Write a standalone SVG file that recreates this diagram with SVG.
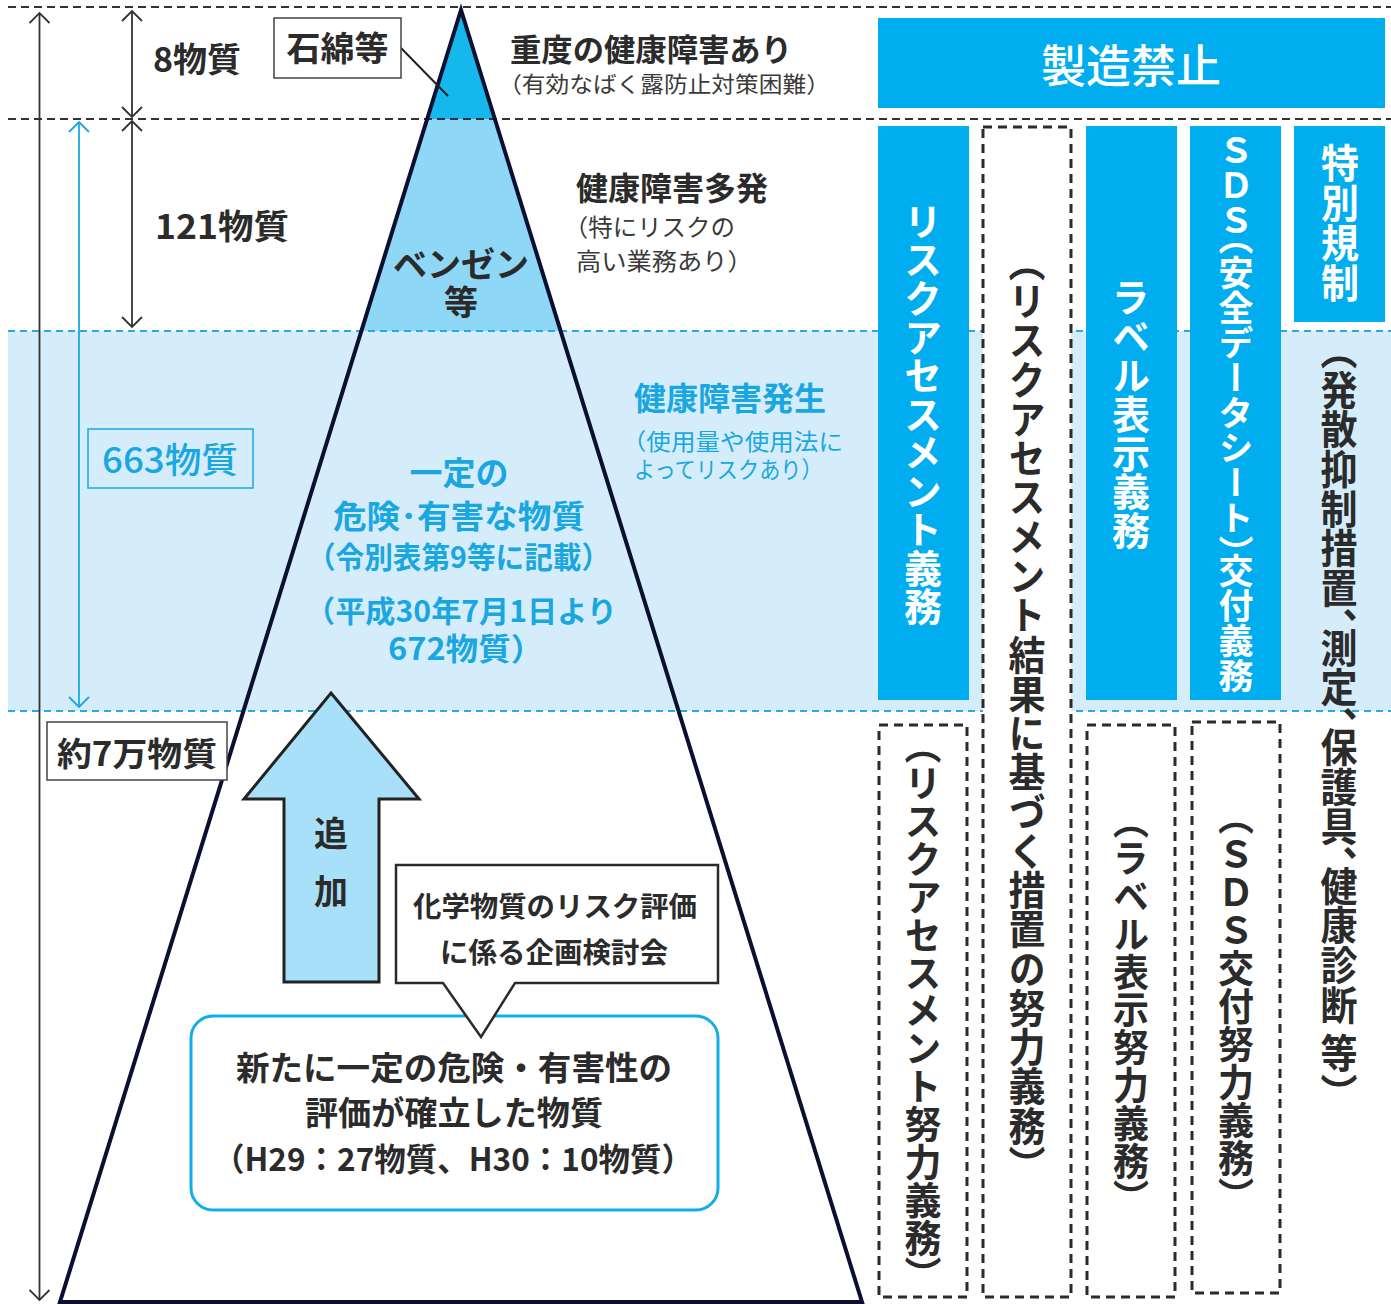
<svg xmlns="http://www.w3.org/2000/svg" width="1391" height="1304" viewBox="0 0 1391 1304">
<style>
text{font-family:"Noto Sans CJK JP","Noto Sans CJK SC",sans-serif;}
.dk{fill:#2b2b2b;font-weight:700;}
.dn{fill:#3a3a3a;font-weight:400;}
.cy{fill:#1aa7e1;font-weight:700;}
.cyn{fill:#1aa7e1;font-weight:400;}
.wt{fill:#ffffff;font-weight:700;}
.vt{writing-mode:vertical-rl;font-feature-settings:"vhal" 1;}
.h{font-feature-settings:"halt" 1;}
.bdash{stroke:#333;stroke-width:2;stroke-dasharray:8 5;fill:none;}
.cdash{stroke:#29abe2;stroke-width:2;stroke-dasharray:7 5;fill:none;}
.col{fill:#00aeef;}
.dbox{fill:#fff;stroke:#2b2b2b;stroke-width:3;stroke-dasharray:9 6;}
.dim{stroke:#333;stroke-width:1.8;fill:none;}
.dimc{stroke:#1aa7e1;stroke-width:1.8;fill:none;}
</style>
<defs>
<marker id="ah" viewBox="0 0 22 22" refX="20" refY="11" markerWidth="22" markerHeight="22" markerUnits="userSpaceOnUse" orient="auto-start-reverse">
<path d="M10,1 L20,11 L10,21" fill="none" stroke="#333" stroke-width="1.8"/>
</marker>
<marker id="ahc" viewBox="0 0 22 22" refX="20" refY="11" markerWidth="22" markerHeight="22" markerUnits="userSpaceOnUse" orient="auto-start-reverse">
<path d="M10,1 L20,11 L10,21" fill="none" stroke="#1aa7e1" stroke-width="1.8"/>
</marker>
</defs>
<rect width="1391" height="1304" fill="#fff"/>
<!-- band -->
<rect x="8" y="331" width="1383" height="380" fill="#d5edfa"/>
<!-- triangle fills -->
<polygon points="461,10 427.2,119 494.8,119" fill="#15b7ec"/>
<polygon points="427.2,119 494.8,119 560.6,331 361.4,331" fill="#8fd7f6"/>
<!-- guide lines -->
<g id="guides">
<line x1="8" y1="7" x2="1391" y2="7" class="bdash"/>
<line x1="8" y1="119" x2="1391" y2="119" class="bdash"/>
<line x1="8" y1="331" x2="1391" y2="331" class="cdash"/>
<line x1="8" y1="711" x2="1391" y2="711" class="cdash"/>
</g>
<!-- triangle -->
<g id="pyramid">
<polygon points="461,10 60,1302 862,1302" fill="none" stroke="#0b1030" stroke-width="4" stroke-linejoin="miter"/>
<text x="461" y="277" class="dk" font-size="34" text-anchor="middle">ベンゼン</text>
<text x="461" y="315" class="dk" font-size="34" text-anchor="middle">等</text>
<text x="459" y="485" class="cy" font-size="33" text-anchor="middle">一定の</text>
<text x="333" y="528" class="cy" font-size="32" textLength="252" lengthAdjust="spacingAndGlyphs">危険･有害な物質</text>
<text x="307" y="568" class="cy" font-size="30" textLength="303" lengthAdjust="spacingAndGlyphs">（令別表第9等に記載）</text>
<text x="305" y="622" class="cy" font-size="30" textLength="312" lengthAdjust="spacingAndGlyphs">（平成30年7月1日より</text>
<text x="388" y="660" class="cy h" font-size="31" textLength="139" lengthAdjust="spacingAndGlyphs">672物質）</text>
</g>
<!-- connectors / dimension arrows -->
<g id="connectors">
<line x1="39.5" y1="13" x2="39.5" y2="1300" class="dim" marker-start="url(#ah)" marker-end="url(#ah)"/>
<line x1="132" y1="11" x2="132" y2="117" class="dim" marker-start="url(#ah)" marker-end="url(#ah)"/>
<line x1="132" y1="121" x2="132" y2="327" class="dim" marker-start="url(#ah)" marker-end="url(#ah)"/>
<line x1="79" y1="122" x2="79" y2="707" class="dimc" marker-start="url(#ahc)" marker-end="url(#ahc)"/>
<line x1="401" y1="48" x2="448" y2="96" stroke="#222" stroke-width="2"/>
</g>
<!-- left labels -->
<g id="lbl-8"><text x="153" y="72" class="dk" font-size="34">8物質</text></g>
<g id="lbl-121"><text x="155" y="239" class="dk" font-size="34" textLength="134" lengthAdjust="spacingAndGlyphs">121物質</text></g>
<g id="lbl-663">
<rect x="88" y="429" width="165" height="59" fill="none" stroke="#1aa7e1" stroke-width="1.5"/>
<text x="102" y="473" class="cyn" font-size="35" textLength="136" lengthAdjust="spacingAndGlyphs" style="font-weight:500">663物質</text>
</g>
<g id="lbl-7man">
<rect x="47" y="722" width="180" height="58" fill="#fff" stroke="#444" stroke-width="1.5"/>
<text x="57" y="766" class="dk" font-size="33" textLength="160" lengthAdjust="spacingAndGlyphs">約7万物質</text>
</g>
<g id="lbl-asbestos">
<rect x="274" y="18" width="127" height="60" fill="#fff" stroke="#444" stroke-width="1.5"/>
<text x="337.5" y="61" class="dk" font-size="34" text-anchor="middle">石綿等</text>
</g>
<!-- middle descriptions -->
<g id="desc-top">
<text x="510" y="61" class="dk" font-size="31" textLength="282" lengthAdjust="spacingAndGlyphs">重度の健康障害あり</text>
<text x="510" y="92" class="dn h" font-size="22" textLength="308" lengthAdjust="spacingAndGlyphs">（有効なばく露防止対策困難）</text>
</g>
<g id="desc-mid">
<text x="576" y="200" class="dk" font-size="32">健康障害多発</text>
<text x="576" y="236" class="dn h" font-size="24" textLength="159" lengthAdjust="spacingAndGlyphs">（特にリスクの</text>
<text x="576" y="270" class="dn h" font-size="24" textLength="164" lengthAdjust="spacingAndGlyphs">高い業務あり）</text>
</g>
<g id="desc-low">
<text x="634" y="410" class="cy" font-size="32">健康障害発生</text>
<text x="634" y="450" class="cyn h" font-size="23" textLength="209" lengthAdjust="spacingAndGlyphs">（使用量や使用法に</text>
<text x="634" y="478" class="cyn h" font-size="23" textLength="178" lengthAdjust="spacingAndGlyphs">よってリスクあり）</text>
</g>
<!-- add arrow -->
<g id="add-arrow">
<polygon points="331,693 419,799 379,799 379,982 284,982 284,799 244,799" fill="#a9e0f9" stroke="#222" stroke-width="3" stroke-linejoin="miter"/>
<text x="331" y="846" class="dk" font-size="34" text-anchor="middle">追</text>
<text x="331" y="904" class="dk" font-size="34" text-anchor="middle">加</text>
</g>
<g id="new-substances">
<rect x="191" y="1016" width="527" height="194" rx="22" ry="22" fill="#fff" stroke="#12aee9" stroke-width="3"/>
<text x="236" y="1080" class="dk" font-size="33" textLength="436" lengthAdjust="spacingAndGlyphs">新たに一定の危険・有害性の</text>
<text x="305" y="1125" class="dk" font-size="33" textLength="298" lengthAdjust="spacingAndGlyphs">評価が確立した物質</text>
<text x="213" y="1171" class="dk" font-size="32" textLength="480" lengthAdjust="spacingAndGlyphs">（H29：27物質、H30：10物質）</text>
</g>
<g id="callout">
<path d="M396,865 H718 V983 H515 L481,1037 L443,983 H396 Z" fill="#fff" stroke="#2b2b2b" stroke-width="2.5" stroke-linejoin="miter"/>
<text x="413" y="917" class="dk" font-size="28" textLength="284" lengthAdjust="spacingAndGlyphs">化学物質のリスク評価</text>
<text x="440" y="963" class="dk" font-size="28" textLength="228" lengthAdjust="spacingAndGlyphs">に係る企画検討会</text>
</g>
<!-- right columns -->
<g id="ban">
<rect x="878" y="18" width="507" height="90" class="col"/>
<text x="1131" y="83" class="wt" font-size="45" text-anchor="middle" style="font-weight:500">製造禁止</text>
</g>
<g id="col-ra">
<rect x="878" y="126" width="91" height="574" class="col"/>
<text x="923" y="202" class="wt vt" font-size="38" textLength="424" lengthAdjust="spacingAndGlyphs">リスクアセスメント義務</text>
</g>
<g id="col-ra-measure">
<rect x="983" y="127" width="88" height="1170" class="dbox"/>
<text x="1027" y="262" class="dk vt" font-size="37" textLength="903" lengthAdjust="spacingAndGlyphs">（リスクアセスメント結果に基づく措置の努力義務）</text>
</g>
<g id="col-label">
<rect x="1086" y="126" width="91" height="574" class="col"/>
<text x="1131" y="278" class="wt vt" font-size="38" textLength="272" lengthAdjust="spacingAndGlyphs">ラベル表示義務</text>
</g>
<g id="col-sds">
<rect x="1190" y="126" width="91" height="574" class="col"/>
<text x="1236" y="133" class="wt vt" font-size="35" textLength="560" lengthAdjust="spacingAndGlyphs">ＳＤＳ（安全データシート）交付義務</text>
</g>
<g id="col-special">
<rect x="1294" y="126" width="91" height="196" class="col"/>
<text x="1340" y="143" class="wt vt" font-size="38" textLength="160" lengthAdjust="spacingAndGlyphs">特別規制</text>
<text x="1339" y="350" class="dk vt" font-size="37" textLength="743" lengthAdjust="spacingAndGlyphs">（発散抑制措置、測定、保護具、健康診断 等）</text>
</g>
<g id="col-ra-effort">
<rect x="879" y="725" width="88" height="572" class="dbox"/>
<text x="923" y="745" class="dk vt" font-size="37" textLength="530" lengthAdjust="spacingAndGlyphs">（リスクアセスメント努力義務）</text>
</g>
<g id="col-label-effort">
<rect x="1087" y="725" width="88" height="572" class="dbox"/>
<text x="1131" y="820" class="dk vt" font-size="36" textLength="378" lengthAdjust="spacingAndGlyphs">（ラベル表示努力義務）</text>
</g>
<g id="col-sds-effort">
<rect x="1192" y="722" width="88" height="571" class="dbox"/>
<text x="1236" y="816" class="dk vt" font-size="36" textLength="380" lengthAdjust="spacingAndGlyphs">（ＳＤＳ交付努力義務）</text>
</g>
</svg>
